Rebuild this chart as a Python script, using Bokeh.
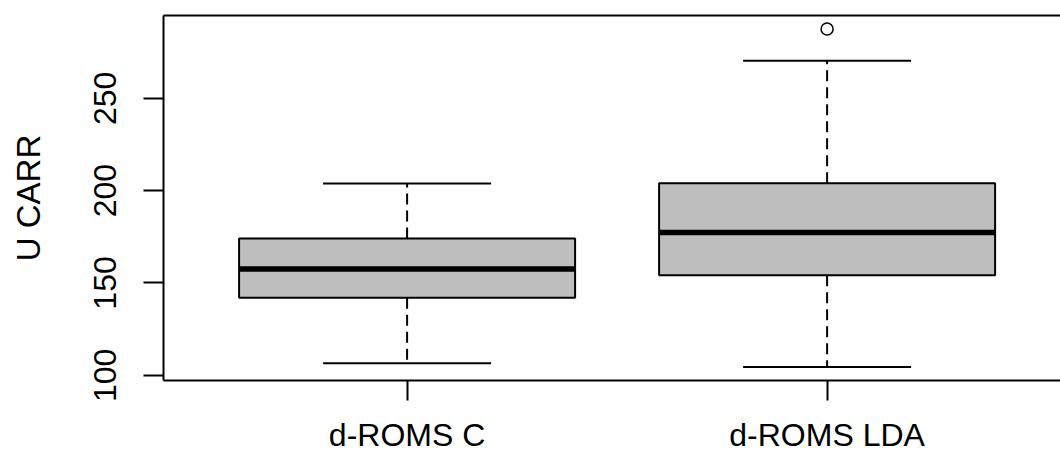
from bokeh.plotting import figure
from bokeh.models import FixedTicker, LinearAxis, ColumnDataSource
from bokeh.embed import file_html
from bokeh.resources import INLINE

# ---- data ----
categories = ["d-ROMS C", "d-ROMS LDA"]
lower_whisker = [106.5, 104.5]
q1 = [142.0, 154.2]
median = [157.6, 177.3]
q3 = [174.1, 204.0]
upper_whisker = [203.9, 270.3]
outlier_group = ["d-ROMS LDA"]
outlier_values = [287.5]
y_ticks = [100, 150, 200, 250]

# ---- derived ----
pos = [i + 1 for i in range(len(categories))]
half_box = 0.4
half_cap = 0.2
src = ColumnDataSource(dict(
    x=pos,
    left=[x - half_box for x in pos],
    right=[x + half_box for x in pos],
    cl=[x - half_cap for x in pos],
    cr=[x + half_cap for x in pos],
    lw=lower_whisker, q1=q1, med=median, q3=q3, uw=upper_whisker,
))
out_x = [pos[categories.index(g)] for g in outlier_group]

all_vals = lower_whisker + upper_whisker + outlier_values
lo, hi = min(all_vals), max(all_vals)
pad = 0.04 * (hi - lo)
y_lo, y_hi = lo - pad, hi + pad

FONT = "Liberation Sans"
FS = "32px"

W, H = 1060, 455
LEFT, TOP, BOTTOM = 163, 15, 75
frame_w = W - LEFT
x_start = 0.5 - 0.08
x_end = x_start + frame_w / 420.0

p = figure(width=W, height=H, x_range=(x_start, x_end), y_range=(y_lo, y_hi),
           output_backend="svg", toolbar_location=None,
           min_border_left=LEFT, min_border_top=TOP, min_border_bottom=BOTTOM,
           min_border_right=0)
p.outline_line_color = None
p.grid.visible = False
p.background_fill_color = "white"
p.border_fill_color = "white"

# whiskers (dashed)
p.segment(x0="x", y0="q3", x1="x", y1="uw", source=src, line_color="black",
          line_width=2, line_dash="11 6")
p.segment(x0="x", y0="q1", x1="x", y1="lw", source=src, line_color="black",
          line_width=2, line_dash="11 6")
# caps
p.segment(x0="cl", y0="uw", x1="cr", y1="uw", source=src, line_color="black", line_width=2)
p.segment(x0="cl", y0="lw", x1="cr", y1="lw", source=src, line_color="black", line_width=2)
# boxes
p.quad(left="left", right="right", bottom="q1", top="q3", source=src,
       fill_color="#bebebe", line_color="black", line_width=2)
# medians
p.segment(x0="left", y0="med", x1="right", y1="med", source=src,
          line_color="black", line_width=5.5)
# outliers
p.scatter(out_x, outlier_values, marker="circle", size=12, fill_color=None,
          line_color="black", line_width=1.5)

# x axis
xa = p.xaxis[0]
xa.ticker = FixedTicker(ticks=pos)
xa.major_label_overrides = {x: c for x, c in zip(pos, categories)}
xa.minor_tick_line_color = None
xa.major_tick_in = 0
xa.major_tick_out = 20
xa.major_tick_line_width = 2
xa.axis_line_width = 2
xa.major_label_text_font = FONT
xa.major_label_text_font_size = FS
xa.major_label_text_color = "black"
xa.major_label_standoff = 16

# y axis
ya = p.yaxis[0]
ya.ticker = FixedTicker(ticks=y_ticks)
ya.minor_tick_line_color = None
ya.major_tick_in = 0
ya.major_tick_out = 20
ya.major_tick_line_width = 2
ya.axis_line_width = 2
ya.major_label_orientation = "vertical"
ya.major_label_text_font = FONT
ya.major_label_text_font_size = FS
ya.major_label_text_color = "black"
ya.major_label_standoff = 27
ya.axis_label = "U CARR"
ya.axis_label_text_font = FONT
ya.axis_label_text_font_size = "33px"
ya.axis_label_text_font_style = "normal"
ya.axis_label_text_color = "black"
ya.axis_label_standoff = 45

# top frame line
top = LinearAxis(ticker=FixedTicker(ticks=[]), axis_line_width=2,
                 major_label_text_font_size="0px", minor_tick_line_color=None,
                 major_tick_line_color=None)
p.add_layout(top, "above")

open("out.html", "w").write(file_html(p, INLINE))
